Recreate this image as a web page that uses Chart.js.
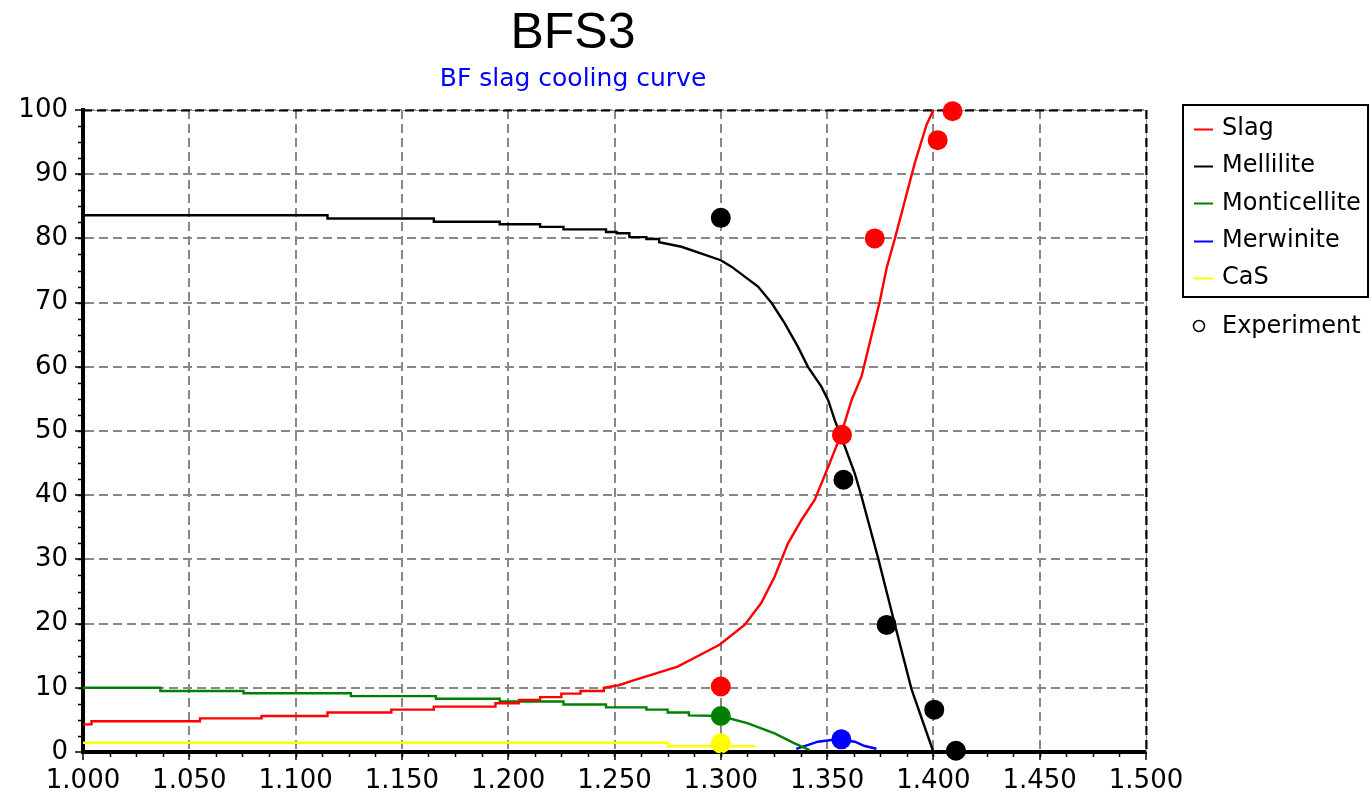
<!DOCTYPE html>
<html>
<head>
<meta charset="utf-8">
<title>BFS3</title>
<script src="https://cdn.jsdelivr.net/npm/chart.js@4/dist/chart.umd.min.js"></script>
<style>
  html, body { margin: 0; padding: 0; background: #ffffff; }
  #wrap { width: 1371px; height: 801px; }
  canvas { display: block; }
</style>
</head>
<body>
<div id="wrap"><canvas id="chart" width="1371" height="801"></canvas></div>
<script>
// Calculated phase fractions (%) along the cooling path
const slagX = [1.000, 1.004, 1.004, 1.055, 1.055, 1.084, 1.084, 1.115, 1.115, 1.145, 1.145, 1.165, 1.165, 1.194, 1.194, 1.205, 1.205, 1.215, 1.215, 1.225, 1.225, 1.234, 1.234, 1.245, 1.245, 1.252, 1.2593, 1.2797, 1.2994, 1.3112, 1.319, 1.3253, 1.3316, 1.3379, 1.3442, 1.3505, 1.3567, 1.3615, 1.3662, 1.3709, 1.3748, 1.378, 1.3819, 1.3866, 1.3913, 1.3968, 1.400];
const slagY = [4.3, 4.3, 4.8, 4.8, 5.24, 5.24, 5.6, 5.6, 6.15, 6.15, 6.6, 6.6, 7.06, 7.06, 7.6, 7.6, 8.1, 8.1, 8.55, 8.55, 9.1, 9.1, 9.5, 9.5, 10.0, 10.4, 11.2, 13.3, 16.7, 19.8, 23.2, 27.3, 32.5, 36.1, 39.3, 44.4, 49.6, 54.8, 58.5, 64.9, 70.2, 75.4, 80.0, 85.9, 91.8, 97.7, 100];

const mellX = [1.000, 1.115, 1.115, 1.165, 1.165, 1.196, 1.196, 1.215, 1.215, 1.226, 1.226, 1.246, 1.246, 1.251, 1.251, 1.257, 1.257, 1.265, 1.265, 1.271, 1.271, 1.2815, 1.300, 1.305, 1.3175, 1.324, 1.330, 1.3363, 1.341, 1.3473, 1.3505, 1.3536, 1.3583, 1.363, 1.3662, 1.374, 1.382, 1.3897, 1.400];
const mellY = [83.6, 83.6, 83.1, 83.1, 82.6, 82.6, 82.2, 82.2, 81.8, 81.8, 81.4, 81.4, 81.0, 81.0, 80.8, 80.8, 80.2, 80.2, 79.9, 79.9, 79.4, 78.7, 76.6, 75.6, 72.5, 69.9, 66.8, 63.1, 60.0, 56.9, 54.8, 51.7, 47.6, 43.4, 39.8, 30.2, 19.7, 9.8, 0];

const montX = [1.000, 1.0364, 1.0364, 1.0755, 1.0755, 1.126, 1.126, 1.166, 1.166, 1.196, 1.196, 1.226, 1.226, 1.246, 1.246, 1.265, 1.265, 1.275, 1.275, 1.285, 1.285, 1.300, 1.3128, 1.3253, 1.3347, 1.3418];
const montY = [10.0, 10.0, 9.5, 9.5, 9.15, 9.15, 8.7, 8.7, 8.3, 8.3, 7.86, 7.86, 7.4, 7.4, 6.95, 6.95, 6.6, 6.6, 6.15, 6.15, 5.7, 5.6, 4.46, 2.9, 1.35, 0.3];

const merwX = [1.3355, 1.3394, 1.3457, 1.352, 1.3567, 1.363, 1.3677, 1.3732];
const merwY = [0.5, 0.93, 1.6, 1.87, 1.9, 1.6, 0.93, 0.5];

const casX = [1.000, 1.275, 1.275, 1.316];
const casY = [1.45, 1.45, 0.9, 0.9];

// Measured phase fractions
const expSlagX = [1.300, 1.357, 1.3724, 1.402, 1.409];
const expSlagY = [10.2, 49.4, 80.0, 95.3, 99.8];
const expMellX = [1.300, 1.3577, 1.378, 1.4004, 1.4106];
const expMellY = [83.2, 42.4, 19.8, 6.6, 0.2];
const expMontX = [1.300];
const expMontY = [5.6];
const expMerwX = [1.3567];
const expMerwY = [1.97];
const expCasX = [1.300];
const expCasY = [1.35];

const phaseNames = ['Slag', 'Mellilite', 'Monticellite', 'Merwinite', 'CaS'];
const phaseColors = ['#ff0000', '#000000', '#008000', '#0000ff', '#ffff00'];
const experimentLabel = 'Experiment';

const titleText = 'BFS3';
const subtitleText = 'BF slag cooling curve';

const xMin = 1.0, xMax = 1.5, xStep = 0.05, xMinor = 0.0125;
const yMin = 0, yMax = 100, yStep = 10, yMinor = 2.5;

const FONT = '"DejaVu Sans", "Liberation Sans", Arial, sans-serif';

function pts(xs, ys) { return xs.map((x, i) => ({ x: x, y: ys[i] })); }

const curves = [[slagX, slagY], [mellX, mellY], [montX, montY], [merwX, merwY], [casX, casY]];
const measured = [[expSlagX, expSlagY], [expMellX, expMellY], [expMontX, expMontY], [expMerwX, expMerwY], [expCasX, expCasY]];

const datasets = [];
measured.forEach((m, i) => {
  datasets.push({
    label: phaseNames[i] + ' ' + experimentLabel,
    data: pts(m[0], m[1]),
    showLine: false,
    pointRadius: 10,
    pointHoverRadius: 10,
    pointBackgroundColor: phaseColors[i],
    pointBorderColor: phaseColors[i],
    pointBorderWidth: 0,
    clip: false,
    order: 0
  });
});
curves.forEach((c, i) => {
  datasets.push({
    label: phaseNames[i],
    data: pts(c[0], c[1]),
    borderColor: phaseColors[i],
    borderWidth: 2.4,
    pointRadius: 0,
    tension: 0,
    fill: false,
    order: 1
  });
});

// Frame top/right edges, minor ticks and the side legend
const decorations = {
  id: 'decorations',
  beforeDatasetsDraw(chart) {
    const { ctx, chartArea: a } = chart;
    ctx.save();
    ctx.strokeStyle = '#9a9a9a';
    ctx.lineWidth = 1;
    ctx.beginPath();
    ctx.moveTo(a.left, a.top + 0.5);
    ctx.lineTo(a.right + 0.5, a.top + 0.5);
    ctx.lineTo(a.right + 0.5, a.bottom);
    ctx.stroke();
    ctx.strokeStyle = '#000';
    ctx.lineWidth = 2;
    ctx.setLineDash([9, 5]);
    ctx.beginPath();
    ctx.moveTo(a.left, a.top + 0.5);
    ctx.lineTo(a.right + 0.5, a.top + 0.5);
    ctx.stroke();
    ctx.beginPath();
    ctx.moveTo(a.right + 0.5, a.top);
    ctx.lineTo(a.right + 0.5, a.bottom);
    ctx.stroke();
    ctx.restore();
  },
  afterDraw(chart) {
    const { ctx, chartArea: a, scales } = chart;
    ctx.save();
    // minor ticks
    ctx.strokeStyle = '#000';
    ctx.lineWidth = 1.5;
    ctx.beginPath();
    for (let v = xMin + xMinor; v < xMax - 1e-9; v += xMinor) {
      const px = Math.round(scales.x.getPixelForValue(v)) + 0.5;
      ctx.moveTo(px, a.bottom);
      ctx.lineTo(px, a.bottom + 5);
    }
    for (let v = yMin + yMinor; v < yMax - 1e-9; v += yMinor) {
      const py = Math.round(scales.y.getPixelForValue(v)) + 0.5;
      ctx.moveTo(a.left - 5, py);
      ctx.lineTo(a.left, py);
    }
    ctx.stroke();

    // legend box
    const bx = 1182, by = 104, bw = 187, bh = 194;
    ctx.lineWidth = 2;
    ctx.strokeStyle = '#000';
    ctx.strokeRect(bx + 1, by + 1, bw - 2, bh - 2);
    ctx.font = '24px ' + FONT;
    ctx.textBaseline = 'middle';
    ctx.textAlign = 'left';
    phaseNames.forEach((name, i) => {
      const ry = 129 + i * 37.2;
      ctx.strokeStyle = phaseColors[i];
      ctx.lineWidth = 2;
      ctx.beginPath();
      ctx.moveTo(1194, Math.round(ry) + 0.5);
      ctx.lineTo(1213, Math.round(ry) + 0.5);
      ctx.stroke();
      ctx.fillStyle = '#000';
      ctx.fillText(name, 1222, ry);
    });
    ctx.strokeStyle = '#000';
    ctx.lineWidth = 1.5;
    ctx.beginPath();
    ctx.arc(1199, 326, 5.5, 0, Math.PI * 2);
    ctx.stroke();
    ctx.fillStyle = '#000';
    ctx.fillText(experimentLabel, 1222, 327);
    ctx.restore();
  }
};

new Chart(document.getElementById('chart'), {
  type: 'line',
  data: { datasets: datasets },
  plugins: [decorations],
  options: {
    responsive: false,
    animation: false,
    devicePixelRatio: 1,
    events: [],
    layout: { padding: { left: 0, right: 225, top: 0, bottom: 0 } },
    plugins: {
      legend: { display: false },
      tooltip: { enabled: false },
      title: {
        display: true,
        text: titleText,
        color: '#000',
        font: { family: '"Liberation Sans", Arial, sans-serif', size: 50, weight: 'normal', lineHeight: 1.2 },
        padding: { top: 4, bottom: 0 }
      },
      subtitle: {
        display: true,
        text: subtitleText,
        color: '#0000ff',
        font: { family: FONT, size: 25, weight: 'normal', lineHeight: 1.2 },
        padding: { top: 0, bottom: 16 }
      }
    },
    scales: {
      x: {
        type: 'linear',
        min: xMin,
        max: xMax,
        afterFit(s) { s.height = 49; },
        ticks: {
          stepSize: xStep,
          color: '#000',
          font: { family: FONT, size: 26 },
          padding: 6,
          maxRotation: 0,
          autoSkip: false,
          callback: v => Number(v).toFixed(3)
        },
        grid: {
          color: '#888888',
          lineWidth: 2,
          tickLength: 8,
          tickColor: '#000',
          tickWidth: 1.5,
          tickBorderDash: []
        },
        border: { display: true, color: '#000', width: 4, dash: [9, 5] }
      },
      y: {
        type: 'linear',
        min: yMin,
        max: yMax,
        afterFit(s) { s.width = 83; },
        ticks: {
          stepSize: yStep,
          color: '#000',
          font: { family: FONT, size: 26 },
          padding: 7
        },
        grid: {
          color: '#888888',
          lineWidth: 2,
          tickLength: 8,
          tickColor: '#000',
          tickWidth: 1.5,
          tickBorderDash: []
        },
        border: { display: true, color: '#000', width: 4, dash: [9, 5] }
      }
    }
  }
});
</script>
</body>
</html>
